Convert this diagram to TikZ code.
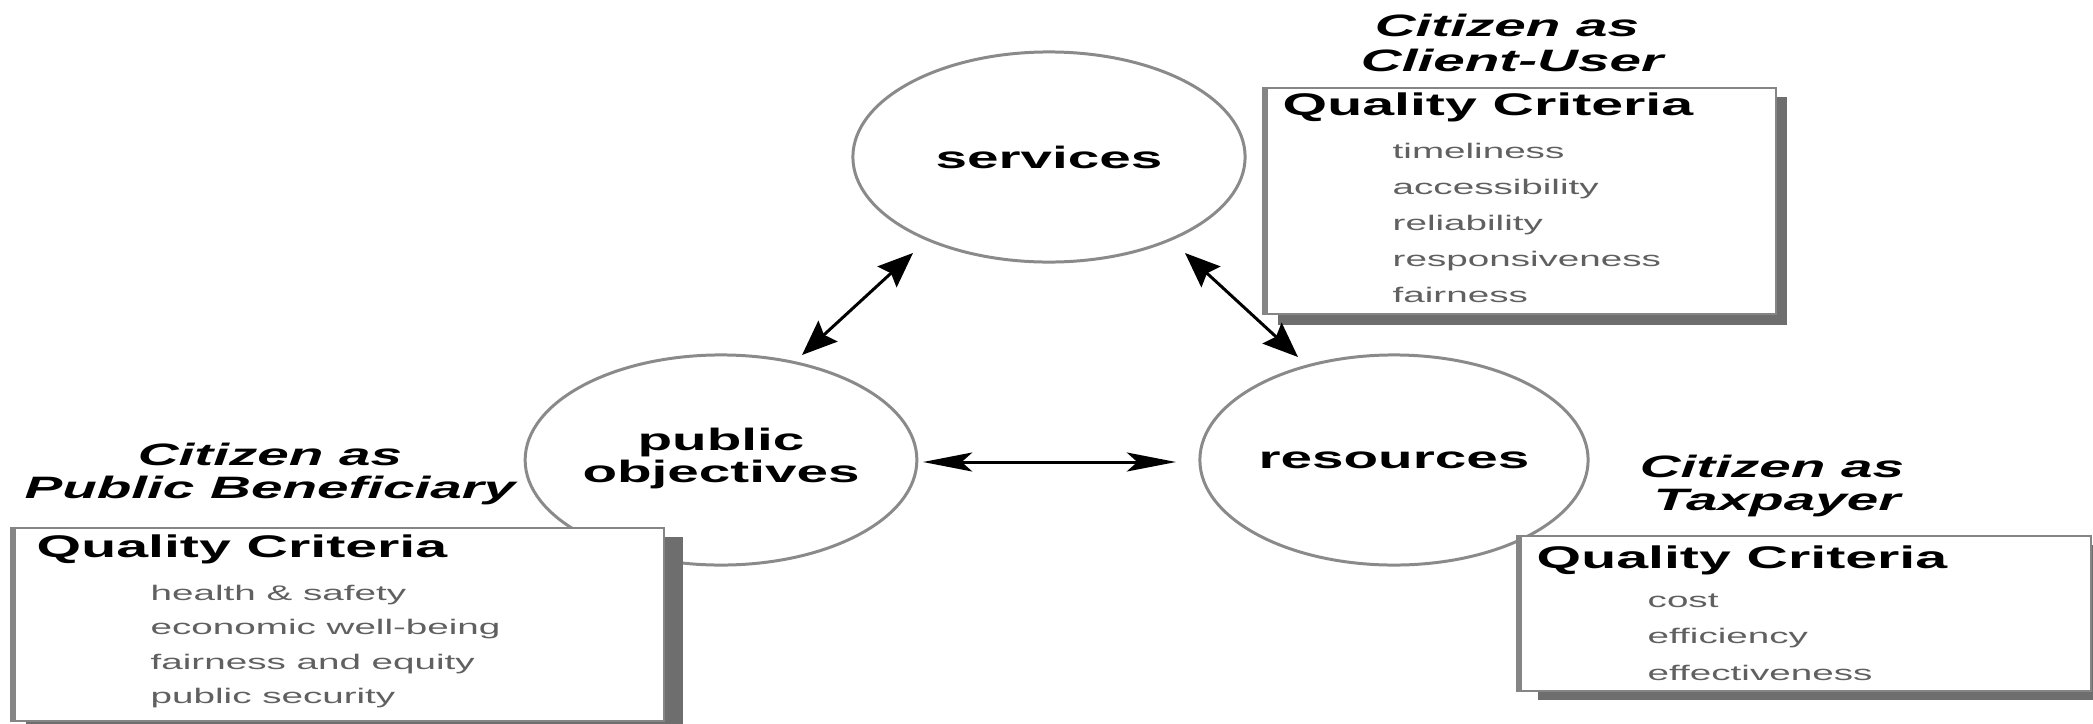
\documentclass[tikz,border=0pt]{standalone}
\usepackage{fontspec}
\setmainfont{Liberation Sans}
\usetikzlibrary{shapes.geometric,arrows.meta}
\definecolor{ellgray}{HTML}{8A8A8A}
\definecolor{boxgray}{HTML}{858585}
\definecolor{shadowgray}{HTML}{6E6E6E}
\definecolor{itemgray}{HTML}{606060}
\newcommand{\wide}[1]{\scalebox{1.83}[1]{#1}}
\begin{document}
\begin{tikzpicture}[x=0.01cm,y=-0.01cm,
  ell/.style={draw=ellgray, line width=0.85pt, fill=white, ellipse, inner sep=0pt,
    minimum height=2.1cm,
    font=\bfseries\fontsize{8.8}{9.1}\selectfont},
  head/.style={anchor=base, inner sep=0pt, font=\bfseries\itshape\fontsize{8.8}{9}\selectfont},
  qc/.style={anchor=base west, inner sep=0pt, font=\bfseries\fontsize{8.9}{9}\selectfont},
  item/.style={anchor=base west, inner sep=0pt, text=itemgray, font=\fontsize{6}{7}\selectfont},
  card/.style={draw=boxgray, line width=0.6pt, fill=white, rectangle, anchor=north west, inner sep=0pt},
  shadowbox/.style={fill=shadowgray, draw=none},
  thickside/.style={draw=boxgray, line width=1.5pt},
  darr/.style={line width=0.85pt, {Stealth[length=10pt,width=8pt,inset=1.5pt]}-{Stealth[length=10pt,width=8pt,inset=1.5pt]}},
  harr/.style={line width=0.85pt, {Stealth[length=14pt,width=5.4pt,inset=3pt]}-{Stealth[length=14pt,width=5.4pt,inset=3pt]}}
]
\clip (0,0) rectangle (2093,724);
\fill[white] (0,0) rectangle (2093,724);

% ellipses
\node[ell, minimum width=3.92cm] (sv) at (1049,157) {\wide{services}};
\node[ell, minimum width=3.82cm] (po) at (721,460) {\wide{\begin{tabular}{@{}c@{}}public\\objectives\end{tabular}}};
\node[ell, minimum width=3.88cm] (rs) at (1394,460) {\wide{resources}};

% shadows
\fill[shadowbox] (1278,97) rectangle (1787,325);
\fill[shadowbox] (26,537) rectangle (683,730);
\fill[shadowbox] (1538,545) rectangle (2102,700);

% boxes
\node[card, minimum width=5.12cm, minimum height=2.26cm] (cu) at (1263,87) {};
\node[card, minimum width=6.52cm, minimum height=1.93cm] (pb) at (11,527) {};
\node[card, minimum width=5.73cm, minimum height=1.55cm] (tx) at (1517,535) {};
\draw[thickside] ([xshift=0.02cm]cu.north west) -- ([xshift=0.02cm]cu.south west);
\draw[thickside] ([xshift=0.02cm]pb.north west) -- ([xshift=0.02cm]pb.south west);
\draw[thickside] ([xshift=0.02cm]tx.north west) -- ([xshift=0.02cm]tx.south west);

% Client-User
\node[head] (cuh1) at (1507,36) {\wide{Citizen as}};
\node[head] (cuh2) at (1512,71) {\wide{Client-User}};
\node[qc] (cuqc) at (1282,115) {\wide{Quality Criteria}};
\node[item] (cui1) at (1392,158) {\wide{timeliness}};
\node[item] (cui2) at (1392,194) {\wide{accessibility}};
\node[item] (cui3) at (1392,230) {\wide{reliability}};
\node[item] (cui4) at (1392,266) {\wide{responsiveness}};
\node[item] (cui5) at (1392,302) {\wide{fairness}};

% Public Beneficiary
\node[head] (pbh1) at (270,465) {\wide{Citizen as}};
\node[head] (pbh2) at (270,498) {\wide{Public Beneficiary}};
\node[qc] (pbqc) at (36,557) {\wide{Quality Criteria}};
\node[item] (pbi1) at (150,600) {\wide{health \& safety}};
\node[item] (pbi2) at (150,634.5) {\wide{economic well-being}};
\node[item] (pbi3) at (150,669) {\wide{fairness and equity}};
\node[item] (pbi4) at (150,703.5) {\wide{public security}};

% Taxpayer
\node[head] (txh1) at (1772,477) {\wide{Citizen as}};
\node[head] (txh2) at (1777,510) {\wide{Taxpayer}};
\node[qc] (txqc) at (1536,568) {\wide{Quality Criteria}};
\node[item] (txi1) at (1647,607) {\wide{cost}};
\node[item] (txi2) at (1647,643) {\wide{efficiency}};
\node[item] (txi3) at (1647,680) {\wide{effectiveness}};

% arrows
\coordinate (a1) at (802,355);
\coordinate (b1) at (913,253);
\coordinate (a2) at (1185,253);
\coordinate (b2) at (1298,357);
\coordinate (a3) at (923,462);
\coordinate (b3) at (1176,462);
\draw[darr] (a1) -- (b1);
\draw[darr] (a2) -- (b2);
\draw[harr] (a3) -- (b3);
\end{tikzpicture}
\end{document}
